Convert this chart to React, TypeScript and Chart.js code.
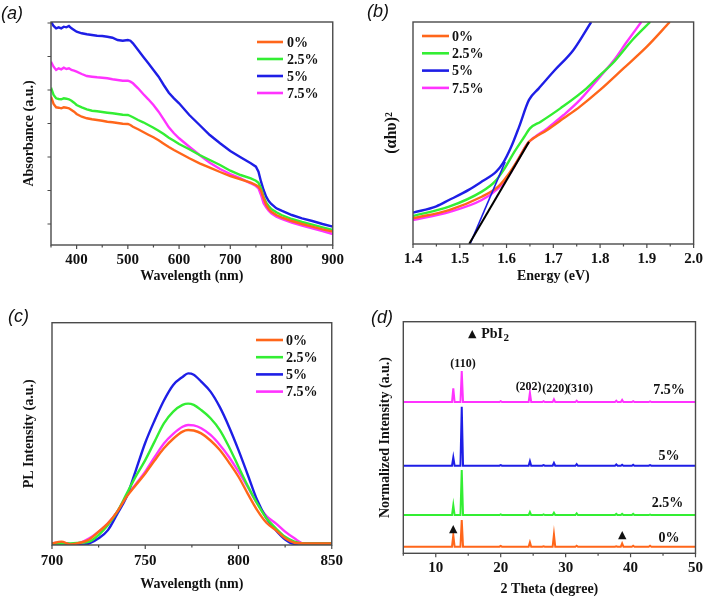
import React, { useEffect, useRef } from 'react';
import { Chart, registerables } from 'chart.js';

Chart.register(...registerables);

const SERIF = '"Liberation Serif", "Times New Roman", Times, serif';
const SANS = '"Liberation Sans", Arial, sans-serif';
const TEXT = '#111111';
const FRAME = '#4a4a4a';

const seriesLabels = ['0%', '2.5%', '5%', '7.5%'];
const seriesColors = ['#FF661A', '#33EE33', '#1E1EE6', '#FF33FF'];

// ---------- (a) absorbance ----------
const absWavelength = [350, 355, 360, 365, 370, 375, 380, 385, 390, 395,
  400, 410, 420, 430, 440, 450, 460, 470, 480, 490, 500, 505,
  510, 520, 530, 540, 550, 560, 570, 580, 590, 600,
  620, 640, 660, 680, 700, 720, 740,
  750, 755, 760, 765, 770, 775, 780, 790, 800,
  820, 840, 860, 880, 900];
const abs0 = [1.483, 1.41, 1.377, 1.373, 1.367, 1.377, 1.373, 1.367, 1.35, 1.333,
  1.31, 1.283, 1.267, 1.257, 1.25, 1.243, 1.233, 1.227, 1.22, 1.213, 1.21, 1.2,
  1.183, 1.157, 1.13, 1.103, 1.077, 1.047, 1.013, 0.98, 0.95, 0.923,
  0.867, 0.817, 0.773, 0.73, 0.69, 0.657, 0.623,
  0.6, 0.583, 0.543, 0.467, 0.4, 0.36, 0.333, 0.3, 0.277,
  0.24, 0.21, 0.183, 0.157, 0.133];
const abs25 = [1.573, 1.5, 1.467, 1.46, 1.457, 1.467, 1.463, 1.457, 1.443, 1.423,
  1.4, 1.377, 1.357, 1.343, 1.337, 1.33, 1.323, 1.317, 1.31, 1.303, 1.3, 1.29,
  1.277, 1.25, 1.227, 1.2, 1.173, 1.143, 1.11, 1.073, 1.043, 1.01,
  0.957, 0.9, 0.85, 0.8, 0.743, 0.7, 0.667,
  0.643, 0.623, 0.567, 0.483, 0.423, 0.39, 0.36, 0.327, 0.3,
  0.26, 0.23, 0.203, 0.177, 0.15];
const abs5 = [2.233, 2.19, 2.167, 2.177, 2.167, 2.183, 2.177, 2.19, 2.167, 2.15,
  2.133, 2.117, 2.107, 2.1, 2.093, 2.09, 2.083, 2.073, 2.05, 2.043, 2.05, 2.043,
  2.017, 1.95, 1.883, 1.817, 1.75, 1.683, 1.6, 1.523, 1.467, 1.417,
  1.3, 1.2, 1.1, 1.017, 0.94, 0.877, 0.817,
  0.783, 0.733, 0.633, 0.55, 0.483, 0.44, 0.41, 0.367, 0.343,
  0.3, 0.267, 0.24, 0.21, 0.183];
const abs75 = [1.833, 1.783, 1.75, 1.767, 1.757, 1.773, 1.76, 1.767, 1.75, 1.743,
  1.733, 1.71, 1.69, 1.683, 1.677, 1.673, 1.667, 1.657, 1.65, 1.643, 1.643, 1.633,
  1.617, 1.567, 1.51, 1.457, 1.4, 1.333, 1.257, 1.177, 1.117, 1.067,
  0.983, 0.9, 0.823, 0.76, 0.71, 0.667, 0.617,
  0.59, 0.567, 0.5, 0.417, 0.377, 0.343, 0.317, 0.283, 0.26,
  0.223, 0.193, 0.167, 0.14, 0.11];
const absXTicks = [400, 500, 600, 700, 800, 900];
const absXMinor = [350, 450, 550, 650, 750, 850];
const absYTicks = [0.21, 0.545, 0.88, 1.215, 1.55, 1.885, 2.22];

// ---------- (b) Tauc ----------
const taucE0 = [1.4, 1.477, 1.547, 1.582, 1.603, 1.624, 1.645, 1.652, 1.687, 1.722, 1.757, 1.8, 1.85, 1.9, 1.949];
const taucA0 = [0.116, 0.153, 0.213, 0.258, 0.311, 0.378, 0.453, 0.468, 0.514, 0.566, 0.619, 0.694, 0.791, 0.889, 1.0];
const taucE25 = [1.4, 1.477, 1.547, 1.575, 1.596, 1.617, 1.638, 1.65, 1.673, 1.715, 1.771, 1.8, 1.827, 1.869, 1.907];
const taucA25 = [0.126, 0.168, 0.236, 0.281, 0.341, 0.416, 0.483, 0.521, 0.551, 0.611, 0.701, 0.761, 0.814, 0.919, 1.0];
const taucE5 = [1.4, 1.45, 1.477, 1.52, 1.547, 1.578, 1.592, 1.61, 1.627, 1.648, 1.669, 1.7, 1.743, 1.781];
const taucA5 = [0.141, 0.17, 0.198, 0.245, 0.281, 0.326, 0.363, 0.438, 0.529, 0.649, 0.701, 0.776, 0.874, 1.0];
const taucE75 = [1.4, 1.477, 1.547, 1.582, 1.603, 1.624, 1.645, 1.652, 1.687, 1.722, 1.757, 1.8, 1.83, 1.855, 1.888];
const taucA75 = [0.108, 0.144, 0.198, 0.251, 0.303, 0.378, 0.453, 0.468, 0.521, 0.581, 0.649, 0.754, 0.829, 0.904, 1.0];
const fitE0 = [1.52, 1.648];
const fitA0 = [0, 0.46];
const fitE5 = [1.522, 1.597];
const fitA5 = [0, 0.37];
const taucXTicks = [1.4, 1.5, 1.6, 1.7, 1.8, 1.9, 2.0];
const taucXMinor = [1.45, 1.55, 1.65, 1.75, 1.85, 1.95];

// ---------- (c) PL ----------
const plWavelength = [700, 705, 710, 715, 720, 725, 730, 735, 740, 745, 750, 755, 760, 765, 770, 773, 776,
  780, 785, 790, 795, 800, 805, 810, 815, 820, 825, 830, 835, 840, 850];
const pl0 = [0.7, 1.5, 0.3, 1, 2.5, 6, 9.7, 15, 21.7, 27, 32.2, 38, 43.5, 47.8, 51, 51.7, 51.5,
  50.2, 47, 42.7, 37, 30.7, 23, 15.7, 10, 6.7, 3, 1, 0.7, 0.7, 0.7];
const pl25 = [0.7, 0.7, 0.7, 1, 1.5, 4.5, 9, 15, 23, 31, 38.2, 46.5, 54.7, 60, 63, 63.6, 63,
  60.7, 57, 51.7, 44, 35.2, 26.5, 18.7, 12, 7.5, 3.7, 1.5, 0.7, 0.7, 0.7];
const pl5 = [0.7, 0.7, 0.4, 0, 0.7, 3, 6.7, 14, 21.7, 33.7, 46, 56, 65, 72, 75.6, 77.2, 76.6,
  73.5, 69, 62, 53, 42.7, 31.5, 20.2, 12, 6.7, 2.5, 0.5, 0.7, 0.7, 0.7];
const pl75 = [0.7, 1.2, 0.5, 1, 3, 6, 9.7, 15, 22, 27.5, 33, 39.5, 45.7, 50, 53.2, 54, 53.8,
  52.5, 49.5, 45, 39.5, 33, 26, 18.7, 13, 9.7, 6, 3, 0.7, 0.7, 0.7];
const plXTicks = [700, 750, 800, 850];
const plXMinor = [725, 775, 825];

// ---------- (d) XRD ----------
const xrdPeakPos = [12.7, 14.0, 20.0, 24.5, 26.6, 28.2, 31.7, 37.8, 38.7, 40.4, 43.0];
const xrdHeight0 = [5.0, 11.5, 0.3, 1.9, 0.2, 5.3, 0.4, 0.2, 1.4, 0.4, 0.4];
const xrdHeight25 = [4.3, 19.5, 0.3, 1.3, 0.3, 1.0, 0.7, 0.5, 0.5, 0.5, 0.2];
const xrdHeight5 = [3.6, 25.5, 0.3, 2.0, 0.3, 1.2, 0.7, 0.6, 0.4, 0.4, 0.3];
const xrdHeight75 = [5.9, 13.4, 0.4, 4.0, 0.4, 1.2, 0.6, 0.6, 0.9, 0.4, 0.3];
const xrdBase0 = 2.85;
const xrdBase25 = 16.5;
const xrdBase5 = 37.8;
const xrdBase75 = 65.3;
const xrdXTicks = [10, 20, 30, 40, 50];
const xrdXMinor = [5, 15, 25, 35, 45];

// ---------- helpers ----------
const pts = (xs: number[], ys: number[]) => xs.map((x, i) => ({ x, y: ys[i] }));

function xrdPoints(base: number, heights: number[]) {
  const out: { x: number; y: number }[] = [{ x: 5, y: base }];
  xrdPeakPos.forEach((p, i) => {
    out.push({ x: p - 0.2, y: base });
    out.push({ x: p, y: base + heights[i] });
    out.push({ x: p + 0.2, y: base });
  });
  out.push({ x: 50, y: base });
  return out;
}

const tickFont = { family: SERIF, size: 15, weight: 'bold' as const };
const titleFont = { family: SERIF, size: 14, weight: 'bold' as const };

interface Note { text: string; x: number; y: number; align?: CanvasTextAlign; size?: number; sub?: string; family?: string }
interface Decor {
  xMajor: number[];
  xMinor: number[];
  yMajor?: number[];
  legend?: { x1: number; x2: number; tx: number; y0: number; dy: number };
  panel: { text: string; x: number; y: number };
  notes?: Note[];
}

function decor(d: Decor) {
  return {
    id: 'decor',
    afterDraw(chart: any) {
      const ctx = chart.ctx as CanvasRenderingContext2D;
      const a = chart.chartArea;
      const xs = chart.scales.x;
      const ys = chart.scales.y;
      ctx.save();
      ctx.strokeStyle = FRAME;
      ctx.lineWidth = 1.4;
      ctx.strokeRect(a.left, a.top, a.right - a.left, a.bottom - a.top);
      ctx.lineWidth = 1.2;
      ctx.beginPath();
      d.xMajor.forEach((v) => {
        const p = xs.getPixelForValue(v);
        ctx.moveTo(p, a.bottom);
        ctx.lineTo(p, a.bottom + 4);
      });
      d.xMinor.forEach((v) => {
        const p = xs.getPixelForValue(v);
        ctx.moveTo(p, a.bottom);
        ctx.lineTo(p, a.bottom + 2.5);
      });
      (d.yMajor || []).forEach((v) => {
        const p = ys.getPixelForValue(v);
        ctx.moveTo(a.left, p);
        ctx.lineTo(a.left - 3.5, p);
      });
      ctx.stroke();

      if (d.legend) {
        const L = d.legend;
        chart.data.datasets.slice(0, 4).forEach((ds: any, i: number) => {
          const y = L.y0 + i * L.dy;
          ctx.strokeStyle = ds.borderColor;
          ctx.lineWidth = 2.6;
          ctx.beginPath();
          ctx.moveTo(L.x1, y);
          ctx.lineTo(L.x2, y);
          ctx.stroke();
          ctx.fillStyle = TEXT;
          ctx.font = `bold 14px ${SERIF}`;
          ctx.textBaseline = 'middle';
          ctx.textAlign = 'left';
          ctx.fillText(ds.label, L.tx, y + 1);
        });
      }

      (d.notes || []).forEach((n) => {
        const px = xs.getPixelForValue(n.x);
        const py = ys.getPixelForValue(n.y);
        const size = n.size || 13;
        ctx.fillStyle = TEXT;
        ctx.font = `bold ${size}px ${n.family || SERIF}`;
        ctx.textBaseline = 'middle';
        ctx.textAlign = n.align || 'center';
        ctx.fillText(n.text, px, py);
        if (n.sub) {
          const w = ctx.measureText(n.text).width;
          ctx.font = `bold ${Math.round(size * 0.75)}px ${SERIF}`;
          ctx.textAlign = 'left';
          ctx.fillText(n.sub, px + w + 0.5, py + 4);
        }
      });

      ctx.fillStyle = TEXT;
      ctx.font = `italic 18px ${SANS}`;
      ctx.textAlign = 'left';
      ctx.textBaseline = 'middle';
      ctx.fillText(d.panel.text, d.panel.x, d.panel.y);
      ctx.restore();
    },
  };
}

interface AxisSpec {
  xMin: number; xMax: number; xTicks: number[]; xFmt?: (v: number) => string;
  yMin: number; yMax: number;
  xTitle: string; yTitle: string; yTitleSize?: number;
  yWidth: number; xHeight: number;
  pad: { top: number; right: number };
  xTitleBottom: number; yTitleTop: number; tickPad: number;
}

function baseOptions(s: AxisSpec): any {
  return {
    responsive: false,
    animation: false,
    layout: { padding: { top: s.pad.top, right: s.pad.right, left: 0, bottom: 0 } },
    plugins: { legend: { display: false }, tooltip: { enabled: false } },
    elements: { point: { radius: 0 }, line: { borderWidth: 2.4 } },
    scales: {
      x: {
        type: 'linear',
        min: s.xMin,
        max: s.xMax,
        afterBuildTicks: (sc: any) => { sc.ticks = s.xTicks.map((v) => ({ value: v })); },
        afterFit: (sc: any) => { sc.height = s.xHeight; },
        grid: { display: false, drawTicks: false, tickLength: 0 },
        border: { display: false },
        ticks: {
          font: tickFont, color: TEXT, padding: s.tickPad, autoSkip: false, maxRotation: 0,
          callback: (v: any) => (s.xFmt ? s.xFmt(Number(v)) : String(v)),
        },
        title: { display: true, text: s.xTitle, font: titleFont, color: TEXT, padding: { top: 0, bottom: s.xTitleBottom } },
      },
      y: {
        type: 'linear',
        min: s.yMin,
        max: s.yMax,
        afterFit: (sc: any) => { sc.width = s.yWidth; },
        grid: { display: false, drawTicks: false, tickLength: 0 },
        border: { display: false },
        ticks: { display: false },
        title: {
          display: true, text: s.yTitle,
          font: { ...titleFont, size: s.yTitleSize || 14 },
          color: TEXT, padding: { top: s.yTitleTop, bottom: 0 },
        },
      },
    },
  };
}

function lineDs(label: string, color: string, data: any[], extra: any = {}) {
  return { label, data, borderColor: color, backgroundColor: color, fill: false, pointRadius: 0, ...extra };
}

function configA(): any {
  const ys = [abs0, abs25, abs5, abs75];
  return {
    type: 'line',
    data: {
      datasets: ys.map((arr, i) => lineDs(seriesLabels[i], seriesColors[i], pts(absWavelength, arr), { tension: 0 })),
    },
    options: baseOptions({
      xMin: 350, xMax: 900, xTicks: absXTicks, yMin: 0, yMax: 2.23,
      xTitle: 'Wavelength (nm)', yTitle: 'Absorbance (a.u.)',
      yWidth: 51, xHeight: 45, pad: { top: 22, right: 17 },
      xTitleBottom: 5.6, yTitleTop: 20.6, tickPad: 6,
    }),
    plugins: [decor({
      xMajor: absXTicks, xMinor: absXMinor, yMajor: absYTicks,
      legend: { x1: 257, x2: 283, tx: 287, y0: 42, dy: 17 },
      panel: { text: '(a)', x: 1, y: 14 },
    })],
  };
}

function configB(): any {
  const es = [taucE0, taucE25, taucE5, taucE75];
  const as = [taucA0, taucA25, taucA5, taucA75];
  const datasets: any[] = es.map((e, i) => lineDs(seriesLabels[i], seriesColors[i], pts(e, as[i]), { cubicInterpolationMode: 'monotone' }));
  datasets.push(lineDs('fit0', '#000000', pts(fitE0, fitA0), { borderWidth: 2, order: -1 }));
  datasets.push(lineDs('fit5', seriesColors[2], pts(fitE5, fitA5), { borderWidth: 1.6, order: -1 }));
  return {
    type: 'line',
    data: { datasets },
    options: baseOptions({
      xMin: 1.4, xMax: 2.0, xTicks: taucXTicks, xFmt: (v) => v.toFixed(1), yMin: 0, yMax: 1,
      xTitle: 'Energy (eV)', yTitle: '(\u03b1h\u03c5)\u00b2', yTitleSize: 16,
      yWidth: 63, xHeight: 46, pad: { top: 22, right: 10 },
      xTitleBottom: 4.9, yTitleTop: 32, tickPad: 6,
    }),
    plugins: [decor({
      xMajor: taucXTicks, xMinor: taucXMinor,
      legend: { x1: 72, x2: 99, tx: 102, y0: 36, dy: 17.3 },
      panel: { text: '(b)', x: 17, y: 12 },
    })],
  };
}

function configC(): any {
  const ys = [pl0, pl25, pl5, pl75];
  return {
    type: 'line',
    data: {
      datasets: ys.map((arr, i) => lineDs(seriesLabels[i], seriesColors[i], pts(plWavelength, arr), { cubicInterpolationMode: 'monotone' })),
    },
    options: baseOptions({
      xMin: 700, xMax: 850, xTicks: plXTicks, yMin: 0, yMax: 100,
      xTitle: 'Wavelength (nm)', yTitle: 'PL Intensity (a.u.)',
      yWidth: 52, xHeight: 53, pad: { top: 32.7, right: 18 },
      xTitleBottom: 5.6, yTitleTop: 20.6, tickPad: 7,
    }),
    plugins: [decor({
      xMajor: plXTicks, xMinor: plXMinor,
      legend: { x1: 256, x2: 283, tx: 286, y0: 50, dy: 17.2 },
      panel: { text: '(c)', x: 8, y: 27 },
    })],
  };
}

function configD(): any {
  const bases = [xrdBase0, xrdBase25, xrdBase5, xrdBase75];
  const hs = [xrdHeight0, xrdHeight25, xrdHeight5, xrdHeight75];
  return {
    type: 'line',
    data: {
      datasets: bases.map((b, i) => lineDs(seriesLabels[i], seriesColors[i], xrdPoints(b, hs[i]), { tension: 0, borderWidth: 2 })),
    },
    options: baseOptions({
      xMin: 5, xMax: 50, xTicks: xrdXTicks, yMin: 0, yMax: 100,
      xTitle: '2 Theta (degree)', yTitle: 'Normalized Intensity (a.u.)',
      yWidth: 53.3, xHeight: 44.7, pad: { top: 31.7, right: 10 },
      xTitleBottom: 0.6, yTitleTop: 26.6, tickPad: 6,
    }),
    plugins: [decor({
      xMajor: xrdXTicks, xMinor: xrdXMinor,
      panel: { text: '(d)', x: 21, y: 28 },
      notes: [
        { text: '\u25b2', x: 15.6, y: 94.7, size: 11, family: '"DejaVu Sans", sans-serif' },
        { text: 'PbI', x: 17.0, y: 94.7, size: 14, align: 'left', sub: '2' },
        { text: '(110)', x: 14.2, y: 81.7, size: 12 },
        { text: '(202)', x: 24.3, y: 71.8, size: 12 },
        { text: '(220)', x: 28.4, y: 70.9, size: 12 },
        { text: '(310)', x: 32.2, y: 70.9, size: 12 },
        { text: '7.5%', x: 45.9, y: 70.5, size: 14 },
        { text: '5%', x: 45.9, y: 42, size: 14 },
        { text: '2.5%', x: 45.7, y: 21.7, size: 14 },
        { text: '0%', x: 45.9, y: 6.6, size: 14 },
        { text: '\u25b2', x: 12.7, y: 10.5, size: 11, family: '"DejaVu Sans", sans-serif' },
        { text: '\u25b2', x: 38.7, y: 7.9, size: 11, family: '"DejaVu Sans", sans-serif' },
      ],
    })],
  };
}

function ChartPanel({ left, top, width, height, make }: { left: number; top: number; width: number; height: number; make: () => any }) {
  const ref = useRef<HTMLCanvasElement>(null);
  useEffect(() => {
    if (!ref.current) return;
    const chart = new Chart(ref.current, make());
    return () => chart.destroy();
  }, []);
  return (
    <canvas
      ref={ref}
      width={width}
      height={height}
      style={{ position: 'absolute', left, top, width, height, display: 'block' }}
    />
  );
}

export default function App() {
  return (
    <div style={{ position: 'fixed', left: 0, top: 0, width: 709, height: 598, background: '#ffffff', overflow: 'hidden' }}>
      <ChartPanel left={0} top={0} width={350} height={290} make={configA} />
      <ChartPanel left={350} top={0} width={359} height={290} make={configB} />
      <ChartPanel left={0} top={290} width={350} height={308} make={configC} />
      <ChartPanel left={350} top={290} width={359} height={308} make={configD} />
    </div>
  );
}
